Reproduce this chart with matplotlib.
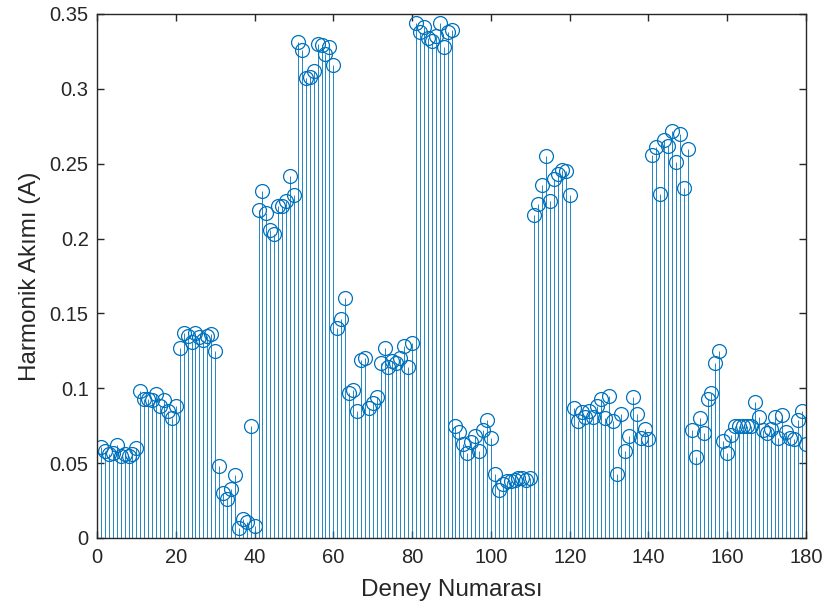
import matplotlib
matplotlib.use("Agg")
import matplotlib.pyplot as plt
import numpy as np

deney = np.arange(1, 181)
akim = [
    0.061, 0.058, 0.056, 0.057, 0.062, 0.055, 0.056, 0.055, 0.056, 0.060,
    0.098, 0.093, 0.093, 0.092, 0.096, 0.088, 0.092, 0.085, 0.080, 0.088,
    0.127, 0.137, 0.135, 0.131, 0.137, 0.134, 0.132, 0.135, 0.136, 0.125,
    0.048, 0.030, 0.026, 0.033, 0.042, 0.007, 0.013, 0.011, 0.075, 0.008,
    0.219, 0.232, 0.217, 0.206, 0.203, 0.222, 0.222, 0.225, 0.242, 0.229,
    0.331, 0.326, 0.307, 0.308, 0.312, 0.330, 0.329, 0.323, 0.328, 0.316,
    0.140, 0.146, 0.160, 0.097, 0.099, 0.085, 0.119, 0.120, 0.087, 0.090,
    0.094, 0.117, 0.127, 0.114, 0.118, 0.117, 0.120, 0.128, 0.114, 0.130,
    0.344, 0.338, 0.341, 0.334, 0.332, 0.335, 0.344, 0.328, 0.338, 0.339,
    0.075, 0.071, 0.063, 0.057, 0.064, 0.068, 0.058, 0.072, 0.079, 0.067,
    0.043, 0.032, 0.036, 0.038, 0.038, 0.039, 0.040, 0.040, 0.039, 0.040,
    0.216, 0.223, 0.236, 0.255, 0.225, 0.240, 0.243, 0.246, 0.245, 0.229,
    0.087, 0.078, 0.084, 0.081, 0.085, 0.081, 0.088, 0.093, 0.080, 0.095,
    0.078, 0.043, 0.083, 0.058, 0.068, 0.094, 0.083, 0.067, 0.073, 0.066,
    0.256, 0.261, 0.230, 0.266, 0.262, 0.272, 0.251, 0.270, 0.234, 0.260,
    0.072, 0.054, 0.080, 0.070, 0.093, 0.097, 0.117, 0.125, 0.065, 0.057,
    0.069, 0.075, 0.075, 0.075, 0.075, 0.075, 0.091, 0.081, 0.072, 0.070,
    0.073, 0.081, 0.067, 0.082, 0.071, 0.067, 0.066, 0.079, 0.085, 0.063,
]
x_ticks = np.arange(0, 181, 20)
y_ticks = [0, 0.05, 0.1, 0.15, 0.2, 0.25, 0.3, 0.35]
y_labels = ['0', '0.05', '0.1', '0.15', '0.2', '0.25', '0.3', '0.35']

plt.rcParams['font.family'] = ['Liberation Sans', 'DejaVu Sans']
blue = '#0072BD'
dark = '#262626'

fig = plt.figure(figsize=(8.25, 6.14), dpi=100)
ax = fig.add_axes([0.1176, 0.1238, 0.8594, 0.8534])

markers, stems, base = ax.stem(deney, akim, basefmt=' ')
plt.setp(stems, color=blue, linewidth=0.6)
plt.setp(markers, color=blue, marker='o', markersize=10,
         markerfacecolor='none', markeredgewidth=0.9)

ax.set_xlim(0, 180)
ax.set_ylim(0, 0.35)
ax.set_xticks(x_ticks)
ax.set_yticks(y_ticks)
ax.set_yticklabels(y_labels)
ax.tick_params(direction='in', top=True, right=True, length=5,
               labelsize=14.5, colors=dark, width=1)
ax.tick_params(axis='x', pad=7)
ax.tick_params(axis='y', pad=6)
for s in ax.spines.values():
    s.set_color(dark)
    s.set_linewidth(1)

ax.set_xlabel('Deney Numarası', fontsize=17.5, color=dark, labelpad=9)
ax.set_ylabel('Harmonik Akımı (A)', fontsize=17.5, color=dark, labelpad=6)

fig.savefig('out.png', dpi=100)
